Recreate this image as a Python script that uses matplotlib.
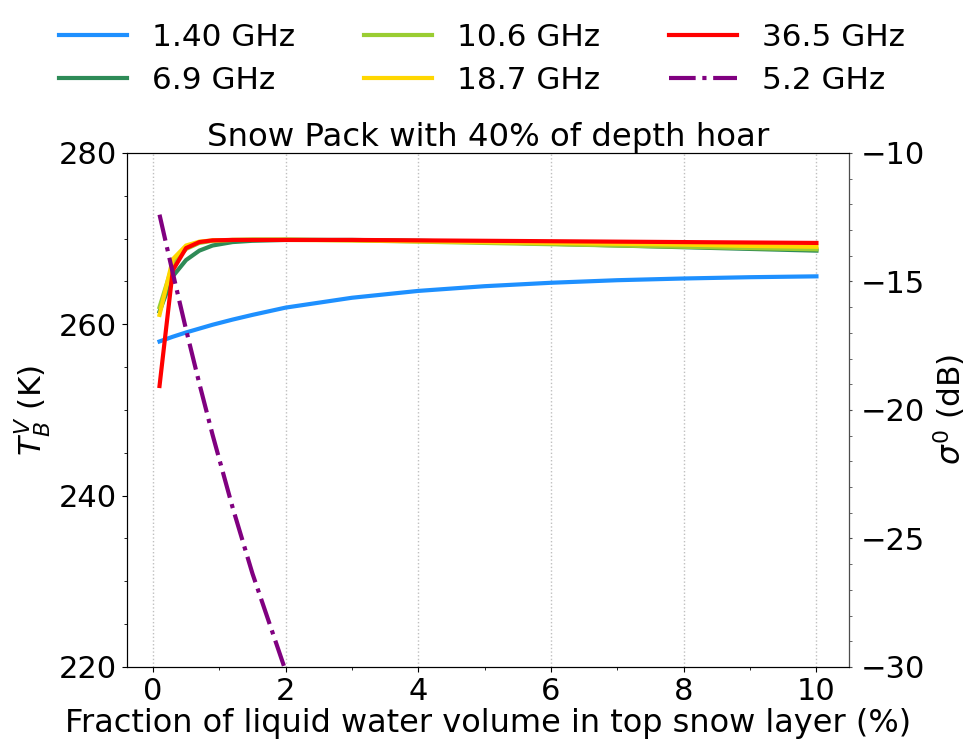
import matplotlib
matplotlib.use("Agg")
import matplotlib.pyplot as plt
from matplotlib.ticker import AutoMinorLocator, MultipleLocator

# liquid water fraction (%)
lwc = [0.1, 0.3, 0.5, 0.7, 0.9, 1.2, 1.5, 2, 3, 4, 5, 6, 7, 8, 9, 10]

# brightness temperatures (K), V pol
tb_1_4 = [258.0, 258.55, 259.05, 259.5, 259.95, 260.55, 261.1, 261.95,
          263.1, 263.9, 264.45, 264.85, 265.15, 265.35, 265.5, 265.6]
tb_6_9 = [261.5, 265.6, 267.5, 268.6, 269.2, 269.6, 269.75, 269.85,
          269.85, 269.75, 269.6, 269.4, 269.2, 269.0, 268.8, 268.6]
tb_10_6 = [262.0, 267.0, 268.8, 269.5, 269.75, 269.85, 269.9, 269.9,
           269.8, 269.65, 269.5, 269.35, 269.2, 269.05, 268.9, 268.75]
tb_18_7 = [261.1, 267.6, 269.2, 269.65, 269.8, 269.85, 269.85, 269.85,
           269.8, 269.7, 269.6, 269.5, 269.4, 269.3, 269.15, 269.05]
tb_36_5 = [252.8, 266.3, 268.9, 269.6, 269.8, 269.85, 269.85, 269.85,
           269.85, 269.8, 269.75, 269.7, 269.65, 269.6, 269.55, 269.5]

# backscatter at 5.2 GHz (dB)
sig_5_2 = [-12.4, -14.67, -16.87, -18.97, -20.97, -23.78, -26.36, -30.15,
           -37.5, -44.0, -49.5, -54.0, -58.0, -61.5, -64.5, -67.0]

tb_series = [
    ("1.40 GHz", tb_1_4, "dodgerblue"),
    ("6.9 GHz", tb_6_9, "seagreen"),
    ("10.6 GHz", tb_10_6, "yellowgreen"),
    ("18.7 GHz", tb_18_7, "gold"),
    ("36.5 GHz", tb_36_5, "red"),
]

plt.rcParams["font.size"] = 22

fig = plt.figure(figsize=(9.64, 7.43), dpi=100)
ax = fig.add_axes([0.1314, 0.1023, 0.7496, 0.6918])

handles = []
for lab, vals, col in tb_series:
    h, = ax.plot(lwc, vals, color=col, lw=3, label=lab)
    handles.append(h)

ax.set_ylim(220, 280)
ax.set_xlim(-0.395, 10.495)
ax.yaxis.set_major_locator(MultipleLocator(20))
ax.yaxis.set_minor_locator(AutoMinorLocator(4))
ax.xaxis.set_major_locator(MultipleLocator(2))
ax.xaxis.set_minor_locator(AutoMinorLocator(2))
ax.xaxis.grid(True, which="major", ls=":", color="0.75", lw=1)
ax.set_xlabel("Fraction of liquid water volume in top snow layer (%)",
              fontsize=23, labelpad=1.5)
ax.set_ylabel("$T_B^V$ (K)", fontsize=22.5)
ax.set_title("Snow Pack with 40% of depth hoar", fontsize=23.3, pad=5)

ax2 = ax.twinx()
h2, = ax2.plot(lwc, sig_5_2, color="purple", lw=3, ls="-.", label="5.2 GHz")
handles.append(h2)
ax2.set_ylim(-30, -10)
ax2.yaxis.set_major_locator(MultipleLocator(5))
ax2.yaxis.set_minor_locator(AutoMinorLocator(5))
ax2.spines["right"].set_color("0.3")
ax2.tick_params(axis="y", which="both", length=2.5, color="0.3", pad=6)
ax2.set_ylabel(r"$\sigma^0$ (dB)", fontsize=22.5)

fig.legend(handles=handles, loc="upper center", bbox_to_anchor=(0.5, 1.007),
           ncol=3, frameon=False, fontsize=22.4, handlelength=2.2,
           columnspacing=2.2, labelspacing=0.45)

fig.savefig("out.png", dpi=100)
